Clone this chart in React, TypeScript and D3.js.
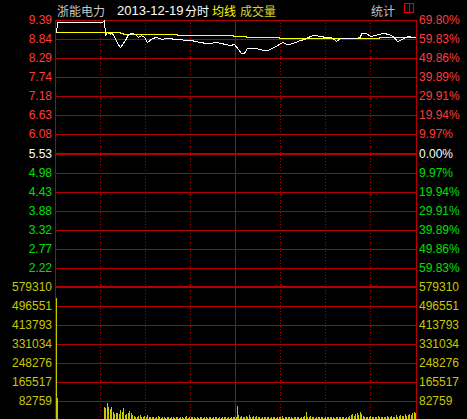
import React, { useRef, useEffect } from "react";
import * as d3 from "d3";

const width = 467;
const height = 419;

const stockName = "浙能电力";
const tradeDate = "2013-12-19";
const prevClose = 5.53;

// left axis price labels (top -> bottom)
const priceLabels = ["9.39", "8.84", "8.29", "7.74", "7.18", "6.63", "6.08", "5.53", "4.98", "4.43", "3.88", "3.32", "2.77", "2.22"];
// right axis percent labels, same rows
const pctLabels = ["69.80%", "59.83%", "49.86%", "39.89%", "29.91%", "19.94%", "9.97%", "0.00%", "9.97%", "19.94%", "29.91%", "39.89%", "49.86%", "59.83%"];
const volLabels = ["579310", "496551", "413793", "331034", "248276", "165517", "82759"];

// minute index from 9:30 (0..240)
const priceMinutes = [0, 1, 31, 32, 33, 34, 36, 37, 39, 41, 43, 46, 48, 51, 53, 55, 57, 59, 61, 64, 67, 69, 71, 73, 76, 79, 83, 86, 90, 93, 96, 100, 103, 106, 110, 113, 116, 119, 122, 124, 126, 128, 131, 134, 136, 139, 142, 144, 147, 150, 152, 154, 156, 160, 163, 166, 170, 172, 177, 180, 183, 186, 187, 190, 193, 197, 200, 203, 204, 207, 210, 213, 215, 219, 222, 225, 228, 230, 232, 235, 238, 240];
const prices = [9.01, 9.33, 9.33, 9.39, 8.97, 9.05, 8.99, 9.04, 8.93, 8.72, 8.62, 8.81, 8.99, 9.02, 8.99, 8.91, 8.96, 8.9, 8.76, 8.87, 8.9, 8.88, 8.84, 8.88, 8.87, 8.84, 8.84, 8.81, 8.81, 8.78, 8.75, 8.72, 8.72, 8.74, 8.72, 8.7, 8.67, 8.7, 8.55, 8.43, 8.44, 8.58, 8.59, 8.59, 8.55, 8.52, 8.52, 8.57, 8.65, 8.72, 8.75, 8.7, 8.7, 8.75, 8.81, 8.85, 8.93, 8.96, 8.94, 8.9, 8.9, 8.84, 8.78, 8.87, 8.87, 8.88, 8.88, 8.9, 9.01, 9.0, 8.94, 8.96, 8.99, 9.02, 8.99, 8.93, 8.79, 8.81, 8.87, 8.93, 8.91, 8.9];

const avgMinutes = [0, 43, 45, 81, 118, 127, 149, 216, 240];
const avgPrices = [9.05, 9.01, 8.99, 8.96, 8.94, 8.9, 8.88, 8.91, 8.91];

// volume per minute, index = minute
const volumes = [
  530000, 97000,
  0, 0, 0, 0, 0, 0, 0, 0, 0, 0, 0, 0, 0, 0, 0, 0, 0, 0, 0, 0, 0, 0, 0, 0, 0, 0, 0, 0, 0, 0,
  58000, 54000, 75000, 57000, 47000, 55000, 37000, 24000, 29000, 29000, 27000, 43000, 33000, 52000, 23000, 25000, 29000, 39000, 29000,
  21000, 17000, 12000, 14000, 17000, 21000, 12000, 14000, 16000, 13000, 20000, 11000, 14000, 15000, 12000,
  10000, 14000, 17000, 11000, 9000, 13000, 15000, 10000, 12000, 14000, 9000, 11000, 13000, 10000, 12000,
  15000, 9000, 12000, 14000, 10000, 11000, 16000, 9000, 13000, 11000, 12000, 14000, 10000, 15000, 9000,
  12000, 13000, 10000, 14000, 11000, 9000, 13000, 15000, 10000, 12000, 11000, 14000, 9000, 12000, 10000,
  13000, 11000, 12000, 9000, 14000, 10000, 13000, 11000, 12000, 15000,
  61000,
  22000, 14000, 17000, 12000, 15000, 18000, 13000, 20000, 14000, 11000, 16000, 13000, 18000, 12000, 14000, 10000, 15000, 12000, 13000,
  11000, 14000, 9000, 13000, 12000, 15000, 10000, 13000, 11000, 14000, 16000, 10000, 12000, 14000, 11000, 13000, 15000, 10000, 12000, 14000,
  11000, 13000, 10000, 15000, 12000, 18000, 36000, 14000, 12000, 16000, 11000, 13000, 10000, 14000, 12000, 15000, 11000, 13000, 10000, 12000,
  14000, 11000, 13000, 12000, 15000, 10000, 14000, 12000, 13000, 11000, 12000, 14000, 10000, 13000, 12000, 16000, 20000, 25000, 18000, 24000,
  30000, 22000, 36000, 26000, 18000, 14000, 12000, 15000, 11000, 17000, 13000, 12000, 14000, 11000, 16000, 13000, 12000, 15000, 14000, 13000,
  16000, 12000, 14000, 18000, 13000, 15000, 20000, 14000, 17000, 22000, 16000, 19000, 24000, 18000, 22000, 28000, 21000, 32000, 34000, 30000,
];

const gridMinutes = [30, 60, 90, 120, 150, 180, 210];

const RED = "#ff3c3c";
const GREEN = "#00e000";
const VOL = "#c8c800";
const GRID = "#b40000";
const FONT = "'Liberation Sans', Arial, sans-serif";
const CJK = "'Noto Sans CJK SC', sans-serif";

const App = () => {
  const ref = useRef<HTMLDivElement>(null);

  useEffect(() => {
    d3.select(ref.current).select("svg").remove();

    const left = 55;
    const right = 416;
    const top = 20;
    const mid = 153.5;
    const split = 287;
    const bottom = 420;

    const x = d3.scaleLinear().domain([0, 240]).range([56, 415]);
    const y = d3.scaleLinear().domain([prevClose, +priceLabels[0]]).range([mid, top]);
    const yVol = d3.scaleLinear().domain([0, +volLabels[0]]).range([bottom, split]);

    const svg = d3
      .select(ref.current)
      .append("svg")
      .attr("width", width)
      .attr("height", height)
      .style("position", "absolute")
      .style("left", "0px")
      .style("top", "0px");

    svg.append("rect").attr("width", width).attr("height", height).attr("fill", "#000");

    // horizontal grid - price area
    priceLabels.forEach((p) => {
      const isMid = +p === prevClose;
      svg
        .append("rect")
        .attr("x", left)
        .attr("y", isMid ? 153 : Math.round(y(+p)))
        .attr("width", right - left + 1)
        .attr("height", isMid ? 2 : 1)
        .attr("fill", GRID);
    });

    // volume area
    svg.append("rect").attr("x", left).attr("y", 286).attr("width", right - left + 1).attr("height", 2).attr("fill", GRID);
    volLabels.slice(1).forEach((v) => {
      svg
        .append("rect")
        .attr("x", left)
        .attr("y", Math.round(yVol(+v)))
        .attr("width", right - left + 1)
        .attr("height", 1)
        .attr("fill", GRID);
    });

    // vertical grid
    gridMinutes.forEach((m) => {
      const xx = Math.floor(x(m)) + 0.5;
      svg
        .append("line")
        .attr("x1", xx)
        .attr("x2", xx)
        .attr("y1", top)
        .attr("y2", bottom)
        .attr("stroke", GRID)
        .attr("stroke-width", 1)
        .attr("stroke-dasharray", m === 120 ? null : "1,2");
    });

    // frame sides
    [left, right].forEach((xx) => {
      svg.append("rect").attr("x", xx).attr("y", top).attr("width", 1).attr("height", bottom - top).attr("fill", GRID);
    });

    // volume bars
    svg
      .append("g")
      .selectAll("rect")
      .data(volumes.map((v, i) => [i, v]).filter((d) => d[1] > 0))
      .join("rect")
      .attr("x", (d) => Math.round(x(d[0])))
      .attr("y", (d) => Math.round(yVol(d[1])))
      .attr("width", 1)
      .attr("height", (d) => bottom - Math.round(yVol(d[1])))
      .attr("fill", VOL);

    // average line
    const avgLine = d3
      .line<number>()
      .x((_, i) => Math.round(x(avgMinutes[i])) + 0.5)
      .y((d) => Math.round(y(d)) + 0.5)
      .curve(d3.curveStepAfter);
    svg
      .append("path")
      .attr("d", avgLine(avgPrices))
      .attr("fill", "none")
      .attr("stroke", "#ffff00")
      .attr("stroke-width", 1)
      .attr("shape-rendering", "crispEdges");

    // price line
    const priceLine = d3
      .line<number>()
      .x((_, i) => Math.round(x(priceMinutes[i])) + 0.5)
      .y((d) => Math.round(y(d)) + 0.5);
    svg
      .append("path")
      .attr("d", priceLine(prices))
      .attr("fill", "none")
      .attr("stroke", "#ffffff")
      .attr("stroke-width", 1)
      .attr("shape-rendering", "crispEdges");

    // axis labels
    const colorFor = (p: number) => (p > prevClose ? RED : p < prevClose ? GREEN : "#ffffff");
    const label = (txt: string, xx: number, yy: number, anchor: string, color: string) =>
      svg
        .append("text")
        .attr("x", xx)
        .attr("y", yy)
        .attr("text-anchor", anchor)
        .attr("dominant-baseline", "central")
        .style("font-family", FONT)
        .style("font-size", "12px")
        .attr("fill", color)
        .text(txt);

    priceLabels.forEach((p, i) => {
      label(p, 52, y(+p), "end", colorFor(+p));
      label(pctLabels[i], 419, y(+p), "start", colorFor(+p));
    });
    volLabels.forEach((v) => {
      label(v, 52, yVol(+v), "end", VOL);
      label(v, 419, yVol(+v), "start", VOL);
    });

    // header
    const header = [
      { t: stockName, x: 57, c: "#c8c8c8", f: CJK, s: 12 },
      { t: tradeDate, x: 117, c: "#ffffff", f: FONT, s: 13 },
      { t: "分时", x: 185, c: "#ffffff", f: CJK, s: 12 },
      { t: "均线", x: 212, c: "#ffff00", f: CJK, s: 12 },
      { t: "成交量", x: 240, c: "#d2d23c", f: CJK, s: 12 },
      { t: "统计", x: 371, c: "#c0c0c0", f: CJK, s: 12 },
    ];
    header.forEach((h) => {
      svg
        .append("text")
        .attr("x", h.x)
        .attr("y", 10)
        .attr("dominant-baseline", "central")
        .style("font-family", h.f)
        .style("font-size", `${h.s}px`)
        .attr("fill", h.c)
        .text(h.t);
    });

    // small window button, top right
    svg.append("rect").attr("x", 404.5).attr("y", 3.5).attr("width", 9).attr("height", 9).attr("fill", "none").attr("stroke", "#e00000");
    svg.append("line").attr("x1", 409.5).attr("x2", 409.5).attr("y1", 4).attr("y2", 12).attr("stroke", "#e00000");
  }, []);

  return <div ref={ref} />;
};

export default App;
